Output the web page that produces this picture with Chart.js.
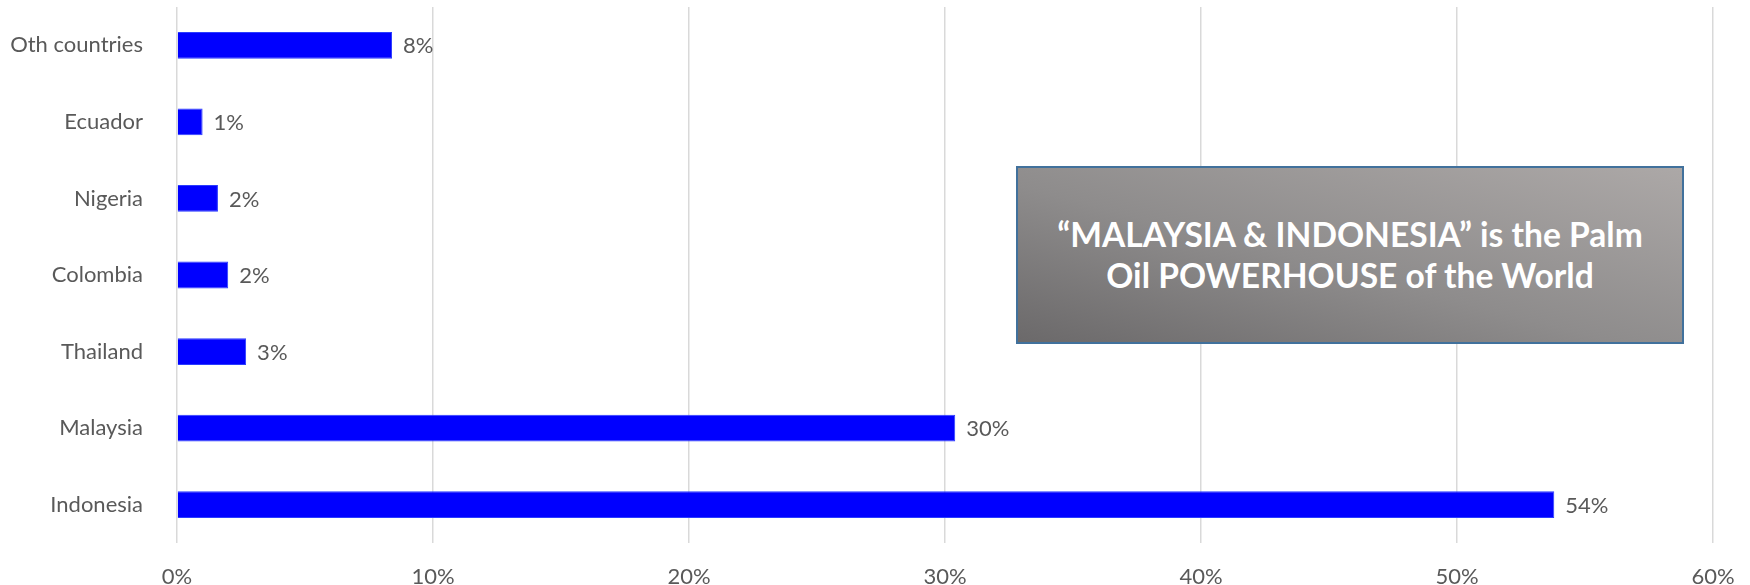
<!DOCTYPE html>
<html>
<head>
<meta charset="utf-8">
<script src="https://cdn.jsdelivr.net/npm/chart.js@4.4.1/dist/chart.umd.min.js"></script>
<style>
html,body{margin:0;padding:0;background:#fff;}
#wrap{position:relative;width:1750px;height:585px;}
#note{
position:absolute;left:1016px;top:166px;width:668px;height:178px;
box-sizing:border-box;border:2px solid #41719c;
background:linear-gradient(to bottom left,#aca8a7,#8e8c8c 55%,#6b696a);
color:#fff;font-family:Lato,"Open Sans",sans-serif;font-weight:bold;font-size:33.6px;
line-height:41px;text-align:center;display:flex;align-items:center;justify-content:center;
}
</style>
</head>
<body>
<div id="wrap">
<canvas id="shareChart" width="1750" height="585"></canvas>
<div id="note">“MALAYSIA &amp; INDONESIA” is the Palm<br>Oil POWERHOUSE of the World</div>
</div>
<script>
// palm oil production share by country
const countries=["Oth countries","Ecuador","Nigeria","Colombia","Thailand","Malaysia","Indonesia"];
const shares=[8.4,1.0,1.6,2.0,2.7,30.4,53.8];
const xTicks=[0,10,20,30,40,50,60];

const tickColor="#595959";
const font="Lato, 'Open Sans', sans-serif";

// value labels just past the end of each bar
const barLabels={
id:"barLabels",
afterDatasetsDraw(chart){
let ctx=chart.ctx;
let meta=chart.getDatasetMeta(0);
ctx.save();
ctx.font="22px "+font;
ctx.fillStyle=tickColor;
ctx.textAlign="left";
ctx.textBaseline="middle";
meta.data.forEach((bar,i)=>{
ctx.fillText(Math.round(shares[i])+"%",bar.x+11,bar.y+1);
});
ctx.restore();
}
};

new Chart(document.getElementById("shareChart"),{
type:"bar",
data:{
labels:countries,
datasets:[{
data:shares,
backgroundColor:"#0000ff",
borderColor:"#2a3cff",
borderWidth:1,
barPercentage:0.7,
categoryPercentage:0.5
}]
},
options:{
indexAxis:"y",
responsive:false,
animation:false,
layout:{padding:{top:7,right:37,bottom:0,left:0}},
plugins:{legend:{display:false},tooltip:{enabled:false}},
scales:{
x:{
min:0,max:60,
afterBuildTicks(scale){scale.ticks=xTicks.map(v=>({value:v}));},
afterFit(scale){
scale.height=42;
scale.paddingLeft=0;
scale.paddingRight=0;
},
grid:{color:"#d9d9d9",lineWidth:1.5,drawTicks:false},
border:{display:false},
ticks:{color:tickColor,font:{family:font,size:22},padding:21,callback:v=>v+"%"}
},
y:{
afterFit(scale){
scale.width=177;
scale.paddingTop=0;
scale.paddingBottom=0;
},
grid:{display:false,drawTicks:false},
border:{display:false},
ticks:{color:tickColor,font:{family:font,size:22},padding:34}
}
}
},
plugins:[barLabels]
});
</script>
</body>
</html>
